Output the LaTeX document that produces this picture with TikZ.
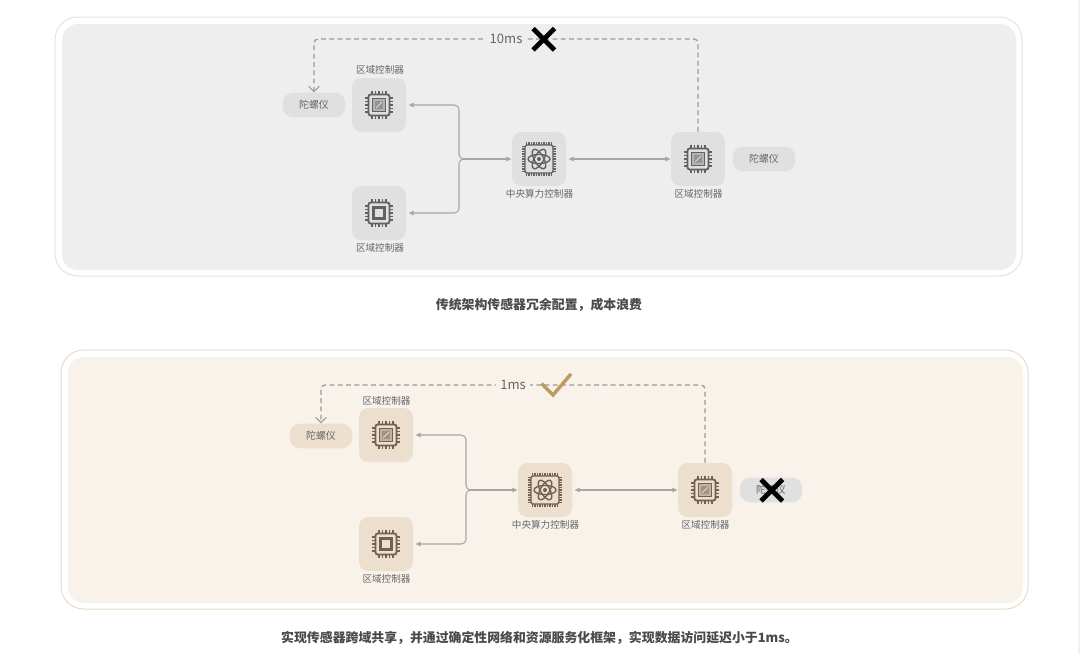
\documentclass[tikz,border=0pt]{standalone}
\usepackage{fontspec}
\setmainfont{Noto Sans CJK SC}
\usetikzlibrary{arrows.meta}

\definecolor{panelgrey}{HTML}{EEEEEE}
\definecolor{panelsand}{HTML}{F8F2EB}
\definecolor{edgegrey}{HTML}{E3E3E3}
\definecolor{edgesand}{HTML}{E9DBC9}
\definecolor{boxgrey}{HTML}{E0E0E0}
\definecolor{boxsand}{HTML}{EDDFCD}
\definecolor{labelgrey}{HTML}{666666}
\definecolor{linegrey}{HTML}{A6A6A6}
\definecolor{dashgrey}{HTML}{9A9A9A}
\definecolor{captiongrey}{HTML}{4A4A4A}
\definecolor{tickgold}{HTML}{BF9A63}
\colorlet{chipink}{black!62}

\tikzset{
  outerpanel/.style={line width=0.75pt, rounded corners=17pt, fill=white},
  innerpanel/.style={rounded corners=12pt},
  chipbox/.style={minimum size=40.5pt, inner sep=0pt, rounded corners=7pt},
  gyrobox/.style={minimum width=47pt, minimum height=18.5pt, inner sep=0pt, rounded corners=8pt,
    text=labelgrey, font=\fontsize{7.4}{9}\selectfont},
  chiplabel/.style={text=labelgrey, inner sep=0pt, font=\fontsize{7.2}{9}\selectfont},
  latency/.style={text=labelgrey, inner sep=3pt, font=\fontsize{9.8}{11}\selectfont},
  caption/.style={text=captiongrey, inner sep=0pt, font=\fontsize{9.66}{12}\selectfont\bfseries},
  link/.style={draw=linegrey, line width=0.8pt, rounded corners=3.5pt},
  linktip/.style={-{Latex[length=4pt, width=4pt]}, shorten >=1.5pt},
  dashlink/.style={draw=dashgrey, line width=0.95pt, dash pattern=on 3.6pt off 2.6pt, rounded corners=3pt,
    -{Straight Barb[length=4pt, width=8pt, line width=0.85pt]}},
  cross/.style={line width=3.6pt, black},
  chipbody/.style={draw=chipink, line width=1.4pt, rounded corners=1.6pt},
  chippins/.style={draw=chipink, line width=1.05pt},
  zonechip/.pic={
    \foreach \t in {-7,-3.5,0,3.5,7} {
      \draw[chippins] (\t,-14) -- (\t,14);
      \draw[chippins] (-14,\t) -- (14,\t);
    }
    \draw[chipbody, fill=boxfillnow] (-10.5,-10.5) rectangle (10.5,10.5);
    \draw[draw=chipink, line width=1pt, fill=chipink!35!boxfillnow] (-6.5,-6.5) rectangle (6.5,6.5);
    \fill[chipink!60!boxfillnow] (-4,-4) rectangle (4,4);
    \draw[white!70!boxfillnow, line width=0.5pt] (-3,3) -- (3,-3);
  },
  plainchip/.pic={
    \foreach \t in {-7,-3.5,0,3.5,7} {
      \draw[chippins] (\t,-14) -- (\t,14);
      \draw[chippins] (-14,\t) -- (14,\t);
    }
    \draw[chipbody, fill=boxfillnow] (-10.5,-10.5) rectangle (10.5,10.5);
    \draw[draw=chipink, line width=1.7pt, fill=boxfillnow] (-5.5,-5.5) rectangle (5.5,5.5);
  },
  corechip/.pic={
    \foreach \t in {-12.5,-10,-7.5,-5,-2.5,0,2.5,5,7.5,10,12.5} {
      \draw[chipink, line width=0.95pt] (\t,-17) -- (\t,17);
      \draw[chipink, line width=0.95pt] (-17,\t) -- (17,\t);
    }
    \draw[chipbody, line width=1pt, fill=boxfillnow] (-14,-14) rectangle (14,14);
    \draw[chipink, line width=1pt] (0,0) ellipse (11 and 4.6);
    \draw[chipink, line width=1pt, rotate=60] (0,0) ellipse (11 and 4.6);
    \draw[chipink, line width=1pt, rotate=-60] (0,0) ellipse (11 and 4.6);
    \fill[chipink] (0,0) circle (2);
  }
}

\begin{document}
\begin{tikzpicture}[x=0.75pt, y=-0.75pt]
  \useasboundingbox (0,0) rectangle (1080,654);
  \fill[white] (0,0) rectangle (1080,654);
  \fill[black!5] (1078,0) rectangle (1080,654);

  % Traditional layout
  \begin{scope}
    \colorlet{boxfillnow}{boxgrey}
    \path[outerpanel, draw=edgegrey] (55,17) rectangle (1022,276);
    \path[innerpanel, fill=panelgrey] (62,24) rectangle (1016,270);

    % Controllers
    \node[chipbox, fill=boxgrey] (zoneA) at (379,105) {};
    \node[chipbox, fill=boxgrey] (zoneB) at (379,213) {};
    \node[chipbox, fill=boxgrey] (core) at (539,159) {};
    \node[chipbox, fill=boxgrey] (zoneC) at (698,159) {};
    \pic at (zoneA) {zonechip};
    \pic at (zoneB) {plainchip};
    \pic at (core) {corechip};
    \pic at (zoneC) {zonechip};
    \node[chiplabel] (zoneAlabel) at (380,70) {区域控制器};
    \node[chiplabel] (zoneBlabel) at (380,248) {区域控制器};
    \node[chiplabel] (corelabel) at (539.5,194) {中央算力控制器};
    \node[chiplabel] (zoneClabel) at (698.5,194) {区域控制器};

    % Gyroscopes
    \node[gyrobox, fill=boxgrey] (gyroA) at (314,105) {\raisebox{-0.7pt}{陀螺仪}};
    \node[gyrobox, fill=boxgrey] (gyroC) at (764,159) {\raisebox{-0.7pt}{陀螺仪}};

    % Bus
    \coordinate (bus) at (463,159);
    \draw[link, linktip] (bus) -- ++(-4,0) |- (zoneA.east);
    \draw[link, linktip] (bus) -- ++(-4,0) |- (zoneB.east);
    \draw[link, linktip, shorten >=0pt] (bus) -- (core.west);
    \draw[link, {Latex[length=4pt, width=4pt]}-{Latex[length=4pt, width=4pt]}, shorten <=1.5pt] (core.east) -- (zoneC.west);

    % Dashed path
    \coordinate (topleft) at (314,39);
    \coordinate (topright) at (698,39);
    \draw[dashlink] (zoneC.north) -- (topright) -- (topleft) -- (gyroA.north);
    \node[latency, fill=panelgrey] (delay) at (506,39) {10ms};
    \draw[cross] (533,28.5) -- (554.5,50);
    \draw[cross] (554.5,28.5) -- (533,50);

    \node[caption] (captionA) at (539,305) {传统架构传感器冗余配置，成本浪费};
  \end{scope}

  % Shared layout
  \begin{scope}
    \colorlet{boxfillnow}{boxsand}
    \colorlet{chipink}{black!45!brown!55!gray}
    \path[outerpanel, draw=edgesand] (61,350) rectangle (1028,609);
    \path[innerpanel, fill=panelsand] (68,357) rectangle (1023,603);

    % Controllers
    \node[chipbox, fill=boxsand] (sharedzoneA) at (386,435) {};
    \node[chipbox, fill=boxsand] (sharedzoneB) at (386,544) {};
    \node[chipbox, fill=boxsand] (sharedcore) at (545,490) {};
    \node[chipbox, fill=boxsand] (sharedzoneC) at (705,490) {};
    \pic at (sharedzoneA) {zonechip};
    \pic at (sharedzoneB) {plainchip};
    \pic at (sharedcore) {corechip};
    \pic at (sharedzoneC) {zonechip};
    \node[chiplabel] (sharedzoneAlabel) at (386.5,401) {区域控制器};
    \node[chiplabel] (sharedzoneBlabel) at (386.5,579) {区域控制器};
    \node[chiplabel] (sharedcorelabel) at (545.5,525) {中央算力控制器};
    \node[chiplabel] (sharedzoneClabel) at (705.5,525) {区域控制器};

    % Gyroscopes
    \node[gyrobox, fill=boxsand] (sharedgyroA) at (321,436) {\raisebox{-0.7pt}{陀螺仪}};
    \node[gyrobox, fill=boxgrey] (sharedgyroC) at (771,490) {\raisebox{-0.7pt}{陀螺仪}};

    % Bus
    \coordinate (sharedbus) at (470,490);
    \draw[link, linktip] (sharedbus) -- ++(-4,0) |- (sharedzoneA.east);
    \draw[link, linktip] (sharedbus) -- ++(-4,0) |- (sharedzoneB.east);
    \draw[link, linktip, shorten >=0pt] (sharedbus) -- (sharedcore.west);
    \draw[link, {Latex[length=4pt, width=4pt]}-{Latex[length=4pt, width=4pt]}, shorten <=1.5pt] (sharedcore.east) -- (sharedzoneC.west);

    % Dashed path
    \coordinate (sharedtopleft) at (321,385);
    \coordinate (sharedtopright) at (705,385);
    \draw[dashlink] (sharedzoneC.north) -- (sharedtopright) -- (sharedtopleft) -- (sharedgyroA.north);
    \node[latency, fill=panelsand] (shareddelay) at (513,385) {1ms};
    \draw[tickgold, line width=2.6pt] (541.5,383.5) -- (553,395) -- (571,374);
    \draw[cross] (761,479.5) -- (782.5,501);
    \draw[cross] (782.5,479.5) -- (761,501);

    \node[caption] (captionB) at (539.5,638) {实现传感器跨域共享，并通过确定性网络和资源服务化框架，实现数据访问延迟小于1ms。};
  \end{scope}
\end{tikzpicture}
\end{document}
